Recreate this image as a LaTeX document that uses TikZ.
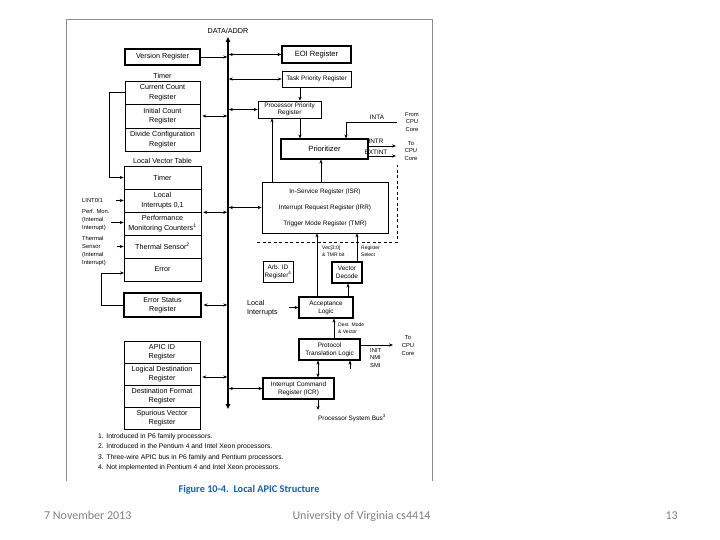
\documentclass[tikz,border=0pt]{standalone}
\usepackage{fontspec}
\setmainfont{Liberation Sans}
\newfontfamily\slidefont{Carlito}
\usetikzlibrary{arrows.meta}
\definecolor{framegray}{RGB}{140,140,140}
\definecolor{capblue}{RGB}{20,95,175}
\definecolor{footgray}{RGB}{128,128,128}
\newcommand\szL{\fontsize{7.2}{9.5}\selectfont}
\newcommand\szM{\fontsize{7.6}{9}\selectfont}
\newcommand\szS{\fontsize{6.4}{8}\selectfont}
\newcommand\szP{\fontsize{6.4}{7}\selectfont}
\newcommand\szT{\fontsize{5.8}{7.8}\selectfont}
\newcommand\szX{\fontsize{5}{6.8}\selectfont}
\newcommand\szF{\fontsize{6.8}{7.5}\selectfont}
\begin{document}
\begin{tikzpicture}[x=1pt,y=-1pt,
  wh/.style 2 args={minimum width=#1pt, minimum height=#2pt},
  reg/.style={draw=black, line width=0.6pt, inner sep=0pt, align=center, font=\szL},
  regs/.style={reg, font=\szS},
  heavy/.style={line width=1.1pt},
  lbl/.style={inner sep=0pt, align=left, font=\szT},
  fnote/.style={anchor=west, inner sep=0pt, font=\szF},
  slide/.style={font=\slidefont\fontsize{12}{14}\selectfont, text=footgray, inner sep=0pt},
  arr/.style={-{Stealth[length=4pt,width=3.2pt]}, line width=0.6pt},
  darr/.style={{Stealth[length=4pt,width=3.2pt]}-{Stealth[length=4pt,width=3.2pt]}, line width=0.6pt},
]
\useasboundingbox (0,0) rectangle (720,540);

% frame
\draw[framegray, line width=0.8pt] (66,481) -- (66,19) -- (432,19) -- (432,481);

% bus
\coordinate (busT) at (228,37);
\coordinate (busB) at (228,409);
\coordinate (busL) at (227.2,0);
\coordinate (busR) at (228.8,0);
\draw[line width=1.6pt, {Triangle[length=5pt,width=4.5pt]}-{Triangle[length=5pt,width=4.5pt]}] (busT) -- (busB);
\node[font=\szL] (data) at (228,31) {DATA/ADDR};

% left registers
\node[reg, heavy, wh={75}{16}] (ver) at (162.5,57) {Version Register};
\node[font=\szL] (timerlbl) at (162.5,75.5) {Timer};
\node[reg, wh={75}{23}] (cc) at (162.5,92.5) {Current Count\\Register};
\node[reg, wh={75}{24}] (ic) at (162.5,116) {Initial Count\\Register};
\node[reg, wh={75}{23}] (dc) at (162.5,139.5) {Divide Configuration\\Register};
\node[font=\szL] (lvtlbl) at (162.5,160.5) {Local Vector Table};
\node[reg, wh={77}{23}] (lt) at (162.5,177.5) {Timer};
\node[reg, wh={77}{23}] (li) at (162.5,200.5) {Local\\Interrupts 0,1};
\node[reg, wh={77}{23}] (pm) at (162.5,223.5) {Performance\\Monitoring Counters\textsuperscript{1}};
\node[reg, wh={77}{23}] (ts) at (162.5,246.5) {Thermal Sensor\textsuperscript{2}};
\node[reg, wh={77}{23}] (er) at (162.5,269.5) {Error};
\node[reg, heavy, wh={77}{24}] (esr) at (162.5,305) {Error Status\\Register};
\node[reg, wh={76}{22}] (aid) at (162,352) {APIC ID\\Register};
\node[reg, wh={76}{22}] (ld) at (162,374) {Logical Destination\\Register};
\node[reg, wh={76}{22}] (df) at (162,396) {Destination Format\\Register};
\node[reg, wh={76}{22}] (sv) at (162,418) {Spurious Vector\\Register};

% left input labels
\node[lbl, anchor=west] (lint) at (82,200) {LINT0/1};
\node[lbl, anchor=north west] (perf) at (82,209.5) {Perf. Mon.\\(Internal\\Interrupt)};
\node[lbl, anchor=north west] (therm) at (82,236.5) {Thermal\\Sensor\\(Internal\\Interrupt)};
\coordinate (lintE) at (116,200.5);
\coordinate (perfE) at (111,222.5);
\coordinate (thermE) at (117,246.5);
\draw[arr] (lintE) -- (li.west);
\draw[arr] (perfE) -- (pm.west |- perfE);
\draw[arr] (thermE) -- (ts.west);

% loops
\coordinate (tloop) at (109,0);
\draw[arr] (cc.west) -- (cc.west -| tloop) |- (lt.west);
\coordinate (eloop) at (101,0);
\coordinate (errin) at (124,273);
\draw[arr] (esr.west) -- (esr.west -| eloop) |- (errin);

% left bus links
\draw[arr] (ver.east) -- (ver.east -| busL);
\draw[darr, shorten <=2pt] (ic.east) -- (ic.east -| busL);
\draw[darr, shorten <=2pt] (li.south east) -- (li.south east -| busL);
\draw[darr, shorten <=2pt] (esr.east) -- (esr.east -| busL);
\coordinate (apicy) at (0,377);
\draw[darr, shorten <=2pt] (ld.east |- apicy) -- (busL |- apicy);

% right registers
\node[reg, heavy, font=\szM, wh={69}{17}] (eoi) at (316.5,54.5) {EOI Register};
\node[regs, wh={69}{16}] (tpr) at (316.5,79) {Task Priority Register};
\node[reg, font=\szP, wh={63}{17}] (ppr) at (289.5,109.5) {Processor Priority\\Register};
\node[reg, heavy, font=\szM, wh={87}{20}] (pri) at (324.5,149) {Prioritizer};
\node[regs, wh={126}{51}] (isr) at (325,207.5) {In-Service Register (ISR)\\[8pt]Interrupt Request Register (IRR)\\[8pt]Trigger Mode Register (TMR)};
\node[regs, wh={30}{21}] (arb) at (278,271.5) {Arb. ID\\Register\textsuperscript{4}};
\node[regs, heavy, wh={30}{21}] (vd) at (347,272.5) {Vector\\Decode};
\node[regs, heavy, wh={54}{21}] (acc) at (326,307.5) {Acceptance\\Logic};
\node[regs, heavy, wh={61}{21}] (ptl) at (329.5,349.5) {Protocol\\Translation Logic};
\node[regs, heavy, wh={71}{21}] (icr) at (298.5,388.5) {Interrupt Command\\Register (ICR)};

% right bus links
\draw[darr] (eoi.west -| busR) -- (eoi.west);
\draw[darr] (tpr.west -| busR) -- (tpr.west);
\draw[darr] (ppr.west -| busR) -- (ppr.west);
\draw[darr] (isr.west -| busR) -- (isr.west);
\draw[darr] (icr.west -| busR) -- (icr.west);

% internal connectors
\coordinate (x300) at (300,0);
\coordinate (x272) at (272,0);
\coordinate (x321) at (321,0);
\coordinate (x346) at (346,0);
\draw[arr] (tpr.south -| x300) -- (ppr.north -| x300);
\draw[arr] (ppr.south -| x300) -- (pri.north -| x300);
\draw[arr] (isr.north -| x272) -- (ppr.south -| x272);
\draw[arr] (isr.north -| x321) -- (pri.south -| x321);
\coordinate (intaR) at (397,122);
\draw[arr] (intaR) -| (pri.north -| x346);
\coordinate (intrE) at (396,146);
\coordinate (extE) at (396,156);
\draw[arr] (pri.east |- intrE) -- (intrE);
\draw[arr] (pri.east |- extE) -- (extE);

% dashed outline
\coordinate (dA) at (257,242);
\coordinate (dB) at (397,242);
\coordinate (dC) at (397,165);
\draw[line width=0.5pt, dash pattern=on 3pt off 2.5pt] (dA) -- (dB) -- (dC);

\coordinate (x317) at (317,0);
\coordinate (x357) at (357,0);
\coordinate (x348) at (348,0);
\coordinate (x334) at (334,0);
\coordinate (x318) at (318,0);
\draw[arr] (acc.north -| x317) -- (isr.south -| x317);
\draw[arr] (vd.north -| x357) -- (isr.south -| x357);
\draw[arr] (acc.north -| x348) -- (vd.south -| x348);
\coordinate (locW) at (289,307.5);
\draw[arr] (locW) -- (acc.west |- locW);
\draw[arr] (ptl.north -| x334) -- (acc.south -| x334);
\coordinate (tcE) at (393,345);
\draw[arr] (ptl.east |- tcE) -- (tcE);
\coordinate (smiS) at (350,369);
\draw[arr] (smiS) -- (ptl.south -| smiS);
\draw[darr] (ptl.south -| x318) -- (icr.north -| x318);
\coordinate (psbT) at (318,410);
\draw[arr] (icr.south -| x318) -- (psbT);

% right labels
\node[lbl, font=\szS] (inta) at (377,117) {INTA};
\node[lbl, align=center] (fromcpu) at (412,122) {From\\CPU\\Core};
\node[lbl, font=\szS] (intr) at (376,141) {INTR};
\node[lbl, font=\szS] (extint) at (376,152) {EXTINT};
\node[lbl, align=center] (tocpu1) at (411,151) {To\\CPU\\Core};
\node[lbl, anchor=west, font=\szX] (vec) at (322,251.5) {Vec[3:0]\\\& TMR bit};
\node[lbl, anchor=west, font=\szX] (regsel) at (361,251.5) {Register\\Select};
\node[lbl, anchor=west, font=\szL] (locint) at (247,308) {Local\\Interrupts};
\node[lbl, anchor=west, font=\szX] (dest) at (338,328.5) {Dest. Mode\\\& Vector};
\node[lbl, align=center] (tocpu2) at (408,345.5) {To\\CPU\\Core};
\node[lbl, anchor=west] (init) at (370,358) {INIT\\NMI\\SMI};
\node[font=\szS, inner sep=0pt] (psb) at (352,418) {Processor System Bus\textsuperscript{3}};

% footnotes
\node[fnote] (fn1) at (98,436.5) {1. Introduced in P6 family processors.};
\node[fnote] (fn2) at (98,447) {2. Introduced in the Pentium 4 and Intel Xeon processors.};
\node[fnote] (fn3) at (98,457.5) {3. Three-wire APIC bus in P6 family and Pentium processors.};
\node[fnote] (fn4) at (98,468) {4. Not implemented in Pentium 4 and Intel Xeon processors.};

% caption
\node[font=\slidefont\bfseries\fontsize{10.3}{12}\selectfont, text=capblue, inner sep=0pt] (cap) at (249,489.5) {Figure 10-4.\ \ Local APIC Structure};

% slide footer
\node[slide, anchor=base west] (date) at (44,519) {7 November 2013};
\node[slide, anchor=base] (univ) at (361.5,519) {University of Virginia cs4414};
\node[slide, anchor=base east] (pg) at (678,519) {13};
\end{tikzpicture}
\end{document}
